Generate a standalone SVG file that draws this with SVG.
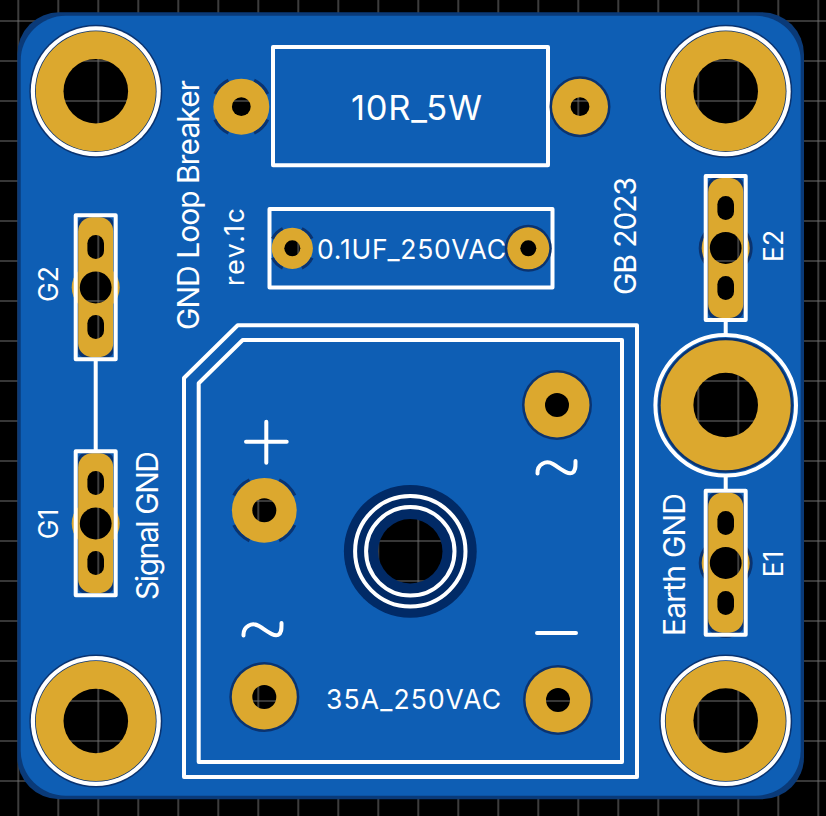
<svg xmlns="http://www.w3.org/2000/svg" width="826" height="816" viewBox="0 0 826 816">
<style>
.si{fill:none;stroke:#fff;stroke-width:4;stroke-linecap:round;stroke-linejoin:round}
.gold{fill:#dca82e}
.hole{fill:url(#g)}
.halo{fill:#0a3370}
.deep{fill:#012a66}
.arc{fill:none;stroke:#0a3370;stroke-width:3;stroke-dasharray:38 52;stroke-dashoffset:-26}
.t{font-family:Inter,"Open Sans","Liberation Sans",sans-serif;fill:#fff;font-size:26.500px;font-weight:400}
.b{font-size:30px}
</style>
<defs>
<pattern id="g" x="-1.700" y="1" width="40" height="40" patternUnits="userSpaceOnUse">
<rect width="40" height="40" fill="#000"/>
<path d="M20 0V40M0 20H40" stroke="#6e6e6e" stroke-width="1.100" fill="none"/>
</pattern>
<g id="mh">
<circle r="66.500" class="halo"/><circle r="65" fill="#fff"/><circle r="60.800" class="halo"/><circle r="60" class="gold"/>
</g>
<g id="jp">
<rect x="-17.500" y="-70" width="35" height="140" rx="6" fill="#0a3370"/>
<rect x="-17.500" y="-70" width="35" height="140" rx="14" class="gold"/>
<rect x="-20" y="-72" width="40" height="144" class="si"/>
</g>
<path id="tilde" class="si" d="M537.500 473.500C537 464 546 460 553 464C560 468 567 475 572 473C576 471 575.500 466 575.500 461"/>
</defs>
<rect width="826" height="816" fill="url(#g)"/>
<g id="board">
<rect x="17.300" y="12.300" width="786.700" height="787" rx="42" fill="#0a3a78"/>
<rect x="20.700" y="15.700" width="780" height="780" rx="45" fill="#0e5eb4"/>
</g>
<g id="H1"><use href="#mh" x="95.800" y="91.200"/><circle cx="95.800" cy="91.200" r="32.300" class="hole"/></g>
<g id="H2"><use href="#mh" x="725.700" y="91.200"/><circle cx="725.700" cy="91.200" r="32.300" class="hole"/></g>
<g id="H3"><use href="#mh" x="95.800" y="721"/><circle cx="95.800" cy="721" r="32.300" class="hole"/></g>
<g id="H4"><use href="#mh" x="725.700" y="721"/><circle cx="725.700" cy="720.600" r="32.300" class="hole"/></g>
<g id="connectors">
<path class="si" d="M95.700 360V451M725.700 320V335M725.700 476V491"/>
</g>
<g id="H5">
<circle cx="725.700" cy="405.300" r="70.300" fill="none" stroke="#fff" stroke-width="4"/>
<circle cx="725.700" cy="405.300" r="67.300" class="halo"/><circle cx="725.700" cy="405.300" r="65" class="gold"/>
<circle cx="725.700" cy="405" r="32.300" class="hole"/>
</g>
<g id="R1">
<rect x="273" y="47" width="275" height="118.300" class="si"/>
<circle cx="241.300" cy="106.700" r="28" class="gold"/>
<circle cx="241.300" cy="106.700" r="29.500" pathLength="360" class="arc"/>
<circle cx="241.300" cy="106.700" r="9.400" class="hole"/>
<circle cx="580" cy="106.700" r="30.500" class="halo"/><circle cx="580" cy="106.700" r="28" class="gold"/><circle cx="580" cy="106.700" r="9.400" class="hole"/>
<text class="t" style="font-size:34.500px" x="351" y="120" textLength="131" lengthAdjust="spacing">10R_5W</text>
</g>
<g id="C1">
<rect x="269.500" y="209" width="283" height="78.500" class="si"/>
<circle cx="292.300" cy="248.300" r="20.600" class="gold"/>
<circle cx="292.300" cy="248.300" r="22" pathLength="360" class="arc"/>
<circle cx="292.300" cy="248.300" r="8" class="hole"/>
<circle cx="528.300" cy="248.300" r="23.500" class="halo"/><circle cx="528.300" cy="248.300" r="21" class="gold"/><circle cx="528.300" cy="248.300" r="8" class="hole"/>
<text class="t" x="317" y="258.500" textLength="189" lengthAdjust="spacing">0.1UF_250VAC</text>
</g>
<g id="BR1">
<path class="si" d="M184 378L237.700 325.300H637V777H184Z"/>
<path class="si" d="M198.700 383.300L242.700 340H622V762H198.700Z"/>
<circle cx="410.300" cy="551.300" r="66.400" class="deep"/>
<circle cx="410.300" cy="551.300" r="55.200" fill="none" stroke="#fff" stroke-width="4"/>
<circle cx="410.300" cy="551.300" r="44.200" fill="none" stroke="#fff" stroke-width="4"/>
<circle cx="410.300" cy="551.300" r="32.200" class="hole"/>
<circle cx="557" cy="405" r="35" class="halo"/><circle cx="557" cy="405" r="32.500" class="gold"/><circle cx="557" cy="405" r="12" class="hole"/>
<circle cx="264.300" cy="510.300" r="32.400" class="gold"/>
<circle cx="264.300" cy="510.300" r="34" pathLength="360" class="arc"/>
<circle cx="264.300" cy="510.300" r="12" class="hole"/>
<circle cx="264.300" cy="697" r="35" class="halo"/><circle cx="264.300" cy="697" r="32.500" class="gold"/><circle cx="264.300" cy="697" r="12" class="hole"/>
<circle cx="558" cy="700" r="35" class="halo"/><circle cx="558" cy="700" r="32.500" class="gold"/><circle cx="558" cy="700" r="12" class="hole"/>
<path class="si" d="M246 441.700H286.700M266.300 421.700V462.700M537 633H576"/>
<use href="#tilde"/>
<use href="#tilde" x="-294" y="162"/>
<text class="t" x="326" y="709.300" textLength="175" lengthAdjust="spacing">35A_250VAC</text>
</g>
<g id="G2">
<circle cx="95.700" cy="287.500" r="24" class="gold"/>
<use href="#jp" x="95.700" y="287.200"/>
<circle cx="95.700" cy="287.500" r="15.900" class="hole"/>
<rect x="87.400" y="235" width="16.600" height="24" rx="8.300" class="hole"/>
<rect x="87.400" y="315" width="16.600" height="24" rx="8.300" class="hole"/>
<text class="t" transform="translate(58 284) rotate(-90)" text-anchor="middle">G2</text>
</g>
<g id="G1">
<circle cx="95.700" cy="523.500" r="24" class="gold"/>
<use href="#jp" x="95.700" y="523.200"/>
<circle cx="95.700" cy="523.500" r="15.900" class="hole"/>
<rect x="87.400" y="471" width="16.600" height="24" rx="8.300" class="hole"/>
<rect x="87.400" y="551" width="16.600" height="24" rx="8.300" class="hole"/>
<text class="t" transform="translate(58 524) rotate(-90)" text-anchor="middle">G1</text>
</g>
<g id="E2">
<circle cx="725.700" cy="248" r="27" class="halo"/><circle cx="725.700" cy="248" r="24" class="gold"/>
<rect x="705.700" y="174" width="40" height="148" rx="20" class="halo"/>
<use href="#jp" x="725.700" y="248"/>
<circle cx="725.700" cy="248" r="15.900" class="hole"/>
<rect x="717.400" y="196" width="16.600" height="24" rx="8.300" class="hole"/>
<rect x="717.400" y="276" width="16.600" height="24" rx="8.300" class="hole"/>
<text class="t" transform="translate(783 246) rotate(-90)" text-anchor="middle">E2</text>
</g>
<g id="E1">
<circle cx="725.700" cy="563" r="27" class="halo"/><circle cx="725.700" cy="563" r="24" class="gold"/>
<rect x="705.700" y="489" width="40" height="149" rx="20" class="halo"/>
<use href="#jp" x="725.700" y="562.700"/>
<circle cx="725.700" cy="563" r="15.900" class="hole"/>
<rect x="717.400" y="511" width="16.600" height="24" rx="8.300" class="hole"/>
<rect x="717.400" y="591" width="16.600" height="24" rx="8.300" class="hole"/>
<text class="t" transform="translate(783 564) rotate(-90)" text-anchor="middle">E1</text>
</g>
<g id="labels">
<text class="t b" transform="translate(199 330) rotate(-90)" textLength="250" lengthAdjust="spacing">GND Loop Breaker</text>
<text class="t" transform="translate(244 286) rotate(-90)" textLength="78" lengthAdjust="spacing">rev.1c</text>
<text class="t b" transform="translate(636 295) rotate(-90)" textLength="118" lengthAdjust="spacing">GB 2023</text>
<text class="t b" transform="translate(158 600) rotate(-90)" textLength="149" lengthAdjust="spacing">Signal GND</text>
<text class="t b" transform="translate(685 636) rotate(-90)" textLength="143" lengthAdjust="spacing">Earth GND</text>
</g>
</svg>
